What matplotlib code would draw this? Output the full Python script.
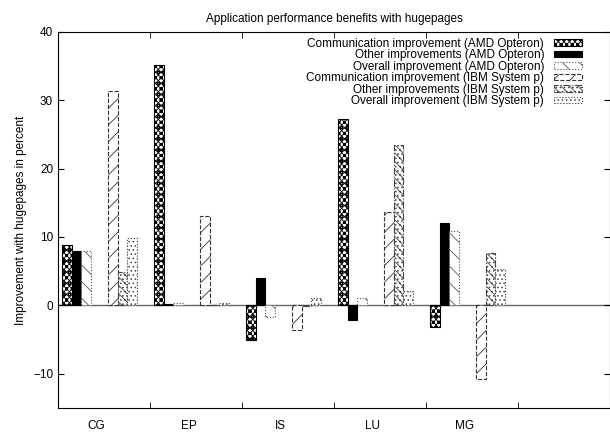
import numpy as np
import matplotlib
matplotlib.use("Agg")
import matplotlib.pyplot as plt

# benchmarks and improvement values (percent)
benchmarks = ["CG", "EP", "IS", "LU", "MG"]
amd_comm = [8.9, 35.1, -5.0, 27.2, -3.2]
amd_other = [7.9, 0.2, 4.0, -2.2, 12.0]
amd_overall = [8.0, 0.3, -1.7, 1.1, 10.9]
ibm_comm = [31.4, 13.0, -3.6, 13.6, -10.8]
ibm_other = [4.9, 0.1, -0.1, 23.4, 7.6]
ibm_overall = [9.8, 0.3, 1.1, 2.1, 5.3]

plt.rcParams['font.family'] = ['Liberation Sans', 'DejaVu Sans']
plt.rcParams['hatch.linewidth'] = 0.6

fig = plt.figure(figsize=(6.1, 4.38), dpi=100)
ax = fig.add_axes([0.095, 0.0685, 0.905, 0.859])

x = np.arange(len(benchmarks))
w = 0.103
amd0 = x + 0.045
ibm0 = x + 0.545

series = [
    (amd0, amd_comm, dict(color='white', edgecolor='black', hatch='xxxxxxooo', linestyle='-'),
     "Communication improvement (AMD Opteron)"),
    (amd0 + w, amd_other, dict(color='black', edgecolor='black', linestyle='-'),
     "Other improvements (AMD Opteron)"),
    (amd0 + 2 * w, amd_overall, dict(color='white', edgecolor='#555555', hatch='\\\\', linestyle=':'),
     "Overall improvement (AMD Opteron)"),
    (ibm0, ibm_comm, dict(color='white', edgecolor='#333333', hatch='//', linestyle='--'),
     "Communication improvement (IBM System p)"),
    (ibm0 + w, ibm_other, dict(color='white', edgecolor='#444444', hatch='\\\\\\\\....', linestyle='-.'),
     "Other improvements (IBM System p)"),
    (ibm0 + 2 * w, ibm_overall, dict(color='white', edgecolor='#444444', hatch='....', linestyle=':'),
     "Overall improvement (IBM System p)"),
]

for left, vals, style, label in series:
    ax.bar(left, vals, width=w, align='edge', linewidth=0.8, label=label, **style)

ax.axhline(0, color='#666666', linewidth=1.0, zorder=0)

ax.set_xlim(0, 6)
ax.set_ylim(-15, 40)
ax.set_yticks([-10, 0, 10, 20, 30, 40])
ax.set_xticks(x + 0.42)
ax.set_xticklabels(benchmarks)
ax.set_xticks(np.arange(1, 6), minor=True)
ax.tick_params(axis='x', which='major', length=0, pad=9, labelsize=8.5)
ax.tick_params(axis='x', which='minor', direction='in', length=4, top=True)
ax.tick_params(axis='y', direction='in', length=4, right=True, labelsize=8.5)

ax.set_ylabel("Improvement with hugepages in percent", fontsize=8.5)
ax.set_title("Application performance benefits with hugepages", fontsize=8.5, pad=7)

ax.legend(loc='upper right', frameon=False, markerfirst=False, fontsize=8.5,
          handlelength=2.4, handleheight=0.45, labelspacing=-0.04,
          borderaxespad=0.1, bbox_to_anchor=(0.96, 1.0))

fig.savefig("out.png", dpi=100)
